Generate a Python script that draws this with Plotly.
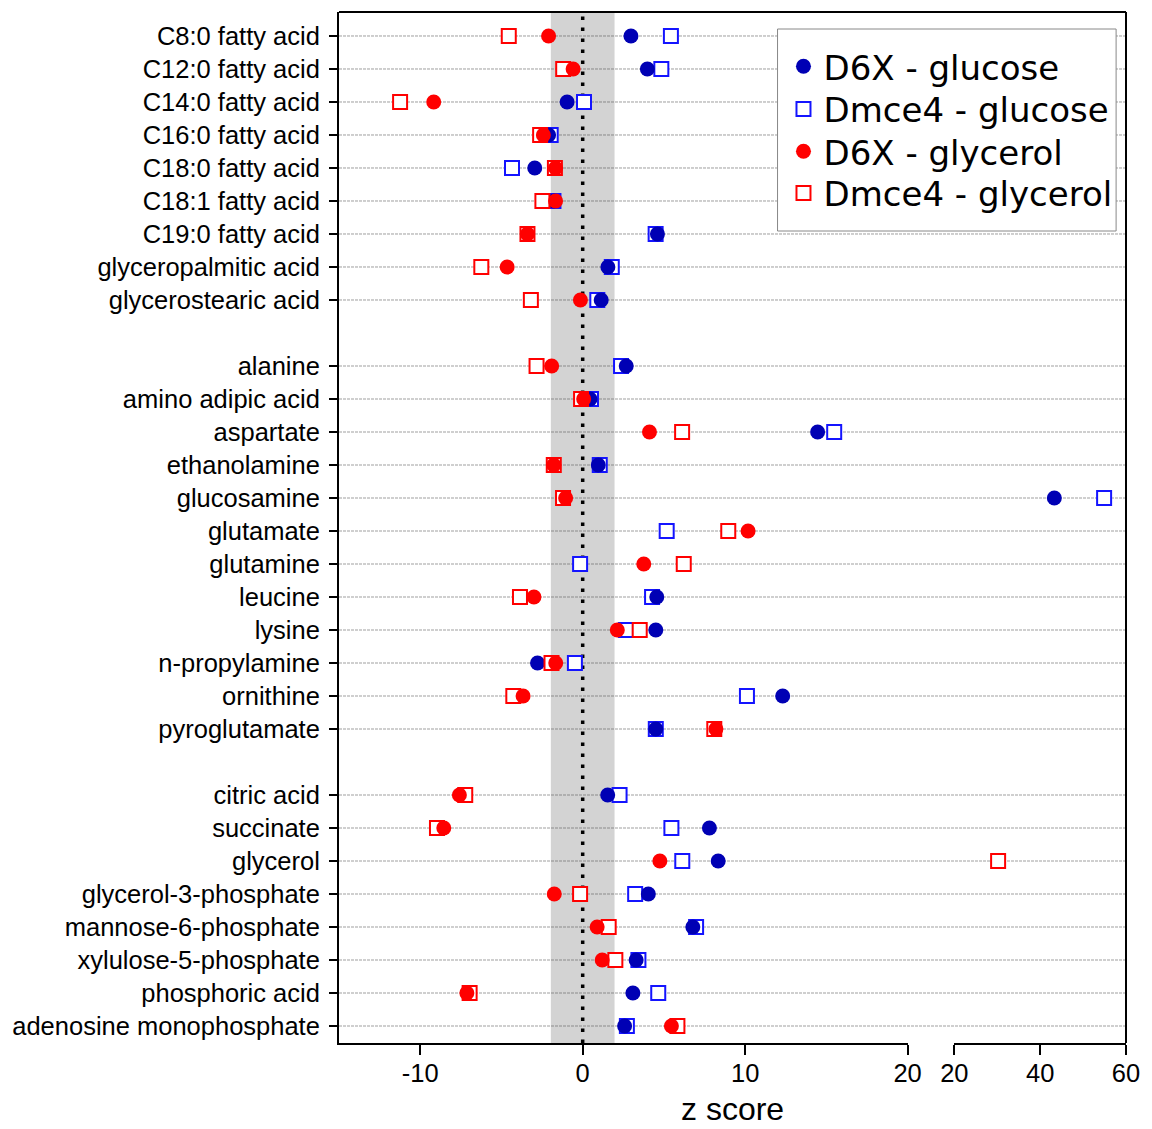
import plotly.graph_objects as go

# ---------------- data ----------------
fatty_acids = ["C8:0 fatty acid", "C12:0 fatty acid", "C14:0 fatty acid", "C16:0 fatty acid",
               "C18:0 fatty acid", "C18:1 fatty acid", "C19:0 fatty acid",
               "glyceropalmitic acid", "glycerostearic acid"]
amino_compounds = ["alanine", "amino adipic acid", "aspartate", "ethanolamine", "glucosamine",
                   "glutamate", "glutamine", "leucine", "lysine", "n-propylamine",
                   "ornithine", "pyroglutamate"]
other_compounds = ["citric acid", "succinate", "glycerol", "glycerol-3-phosphate",
                   "mannose-6-phosphate", "xylulose-5-phosphate", "phosphoric acid",
                   "adenosine monophosphate"]

d6x_glucose = [2.97, 3.98, -0.96, -2.10, -2.95, -1.75, 4.60, 1.55, 1.14,
               2.68, 0.45, 14.46, 0.96, 43.3, None, None, 4.56, 4.50, -2.78, 12.31, 4.50,
               1.54, 7.80, 8.34, 4.04, 6.78, 3.29, 3.09, 2.58]
dmce4_glucose = [5.43, 4.84, 0.08, -1.97, -4.35, -1.80, 4.49, 1.79, 0.90,
                 2.36, 0.51, 15.48, 1.05, 54.9, 5.17, -0.16, 4.27, 2.66, -0.48, 10.11, 4.50,
                 2.27, 5.46, 6.13, 3.23, 6.98, 3.43, 4.65, 2.72]
d6x_glycerol = [-2.10, -0.59, -9.17, -2.42, -1.67, -1.67, -3.40, -4.65, -0.14,
                -1.91, 0.06, 4.11, -1.78, -1.05, 10.18, 3.76, -3.00, 2.13, -1.66, -3.67, 8.20,
                -7.59, -8.55, 4.75, -1.75, 0.89, 1.20, -7.13, 5.46]
dmce4_glycerol = [-4.55, -1.20, -11.24, -2.62, -1.71, -2.48, -3.40, -6.24, -3.19,
                  -2.84, -0.10, 6.12, -1.78, -1.21, 8.96, 6.22, -3.86, 3.51, -1.92, -4.27, 8.10,
                  -7.23, -8.97, 30.2, -0.16, 1.60, 2.01, -6.96, 5.83]

left_ticks = [-10, 0, 10, 20]
left_tick_labels = ["-10", "0", "10", "20"]
right_ticks = [20, 40, 60]
right_tick_labels = ["20", "40", "60"]
axis_break = 20
significance = 1.96

# ---------------- layout helpers ----------------
groups = [fatty_acids, amino_compounds, other_compounds]
names, ypos = [], []
p = 0
for g in groups:
    for n in g:
        names.append(n)
        ypos.append(p)
        p += 1
    p += 1

W, H = 1152, 1129
ml, mr, mt, mb = 336, 21, 12, 86
pw = W - ml - mr
ph = H - mt - mb
left_dom = [0, (910.4 - ml) / pw]
right_dom = [(957.6 - ml) / pw, 1]

def px_x(px):
    return (px - ml) / pw

def px_y(py):
    return 1 - (py - mt) / ph

series = [
    # (name, values, symbol, color, fill, legend id, legend row centre px)
    ("Dmce4 - glucose", dmce4_glucose, "square", "#1414ff", "white", "legend2", 109.3),
    ("D6X - glucose", d6x_glucose, "circle", "#0000b4", "#0000b4", "legend", 66.7),
    ("Dmce4 - glycerol", dmce4_glycerol, "square", "#ff0000", "white", "legend4", 193.3),
    ("D6X - glycerol", d6x_glycerol, "circle", "#ff0000", "#ff0000", "legend3", 151.7),
]

fig = go.Figure()
for name, vals, sym, col, fill, leg, _ in series:
    if sym == "circle":
        marker = dict(symbol="circle", size=15, color=col, line=dict(width=0))
    else:
        marker = dict(symbol="square", size=14, color=fill, line=dict(color=col, width=2))
    xl = [v if (v is not None and v <= axis_break) else None for v in vals]
    xr = [v if (v is not None and v > axis_break) else None for v in vals]
    fig.add_trace(go.Scatter(x=xl, y=ypos, mode="markers", marker=marker, name=name,
                             legend=leg, xaxis="x", yaxis="y", showlegend=True))
    fig.add_trace(go.Scatter(x=xr, y=ypos, mode="markers", marker=marker, name=name,
                             legend=leg, xaxis="x2", yaxis="y", showlegend=False))

shapes = []
shapes.append(dict(type="rect", xref="x", yref="paper", x0=-significance, x1=significance,
                   y0=0, y1=1, fillcolor="#d3d3d3", line=dict(width=0), layer="below"))
for yv in ypos:
    shapes.append(dict(type="line", xref="paper", yref="y", x0=0, x1=1, y0=yv, y1=yv,
                       line=dict(color="rgba(80,80,80,0.55)", width=1, dash="3px,1px"),
                       layer="below"))
shapes.append(dict(type="line", xref="x", yref="paper", x0=0, x1=0, y0=0, y1=1,
                   line=dict(color="black", width=3.5, dash="3.5px,7.5px"), layer="below"))
shapes.append(dict(type="line", xref="paper", yref="paper", x0=0, x1=1, y0=1, y1=1,
                   line=dict(color="black", width=2), layer="above"))
shapes.append(dict(type="line", xref="paper", yref="paper", x0=1, x1=1, y0=0, y1=1,
                   line=dict(color="black", width=2), layer="above"))
shapes.append(dict(type="rect", xref="paper", yref="paper",
                   x0=px_x(779), x1=px_x(1121), y0=px_y(231), y1=px_y(29),
                   fillcolor="white", line=dict(color="#888888", width=1), layer="above"))

tickfont = dict(family="Liberation Sans, Arial, sans-serif", size=25.5, color="black")
common_x = dict(showgrid=False, zeroline=False, showline=True, linecolor="black", linewidth=2,
                ticks="outside", ticklen=10, tickwidth=2, tickcolor="black", tickfont=tickfont,
                ticklabelstandoff=-4)

legend_font = dict(family="DejaVu Sans, Verdana, sans-serif", size=34, color="black")
legends = {}
for name, vals, sym, col, fill, leg, yc in series:
    legends[leg] = dict(x=px_x(785), xanchor="left", y=px_y(yc), yanchor="middle",
                        bgcolor="rgba(0,0,0,0)", borderwidth=0, font=legend_font,
                        itemwidth=30)

fig.update_layout(
    width=W, height=H,
    margin=dict(l=ml, r=mr, t=mt, b=mb),
    plot_bgcolor="white", paper_bgcolor="white",
    xaxis=dict(domain=left_dom, range=[-15, axis_break], tickmode="array", tickvals=left_ticks,
               ticktext=left_tick_labels, anchor="y", **common_x),
    xaxis2=dict(domain=right_dom, range=[axis_break, 60], tickmode="array", tickvals=right_ticks,
                ticktext=right_tick_labels, anchor="y", **common_x),
    yaxis=dict(range=[30.515, -0.727], tickmode="array", tickvals=ypos, ticktext=names,
               showgrid=False, zeroline=False, showline=True, linecolor="black", linewidth=2,
               ticks="outside", ticklen=8, tickwidth=1.5, tickcolor="black",
               tickfont=tickfont, anchor="x", ticklabelstandoff=4),
    shapes=shapes,
    annotations=[dict(text="z score", xref="paper", yref="paper", x=0.5, y=px_y(1129),
                      xanchor="center", yanchor="bottom", showarrow=False,
                      font=dict(family="Liberation Sans, Arial, sans-serif", size=32,
                                color="black"))],
    **legends,
)

fig.write_html("out.html")
